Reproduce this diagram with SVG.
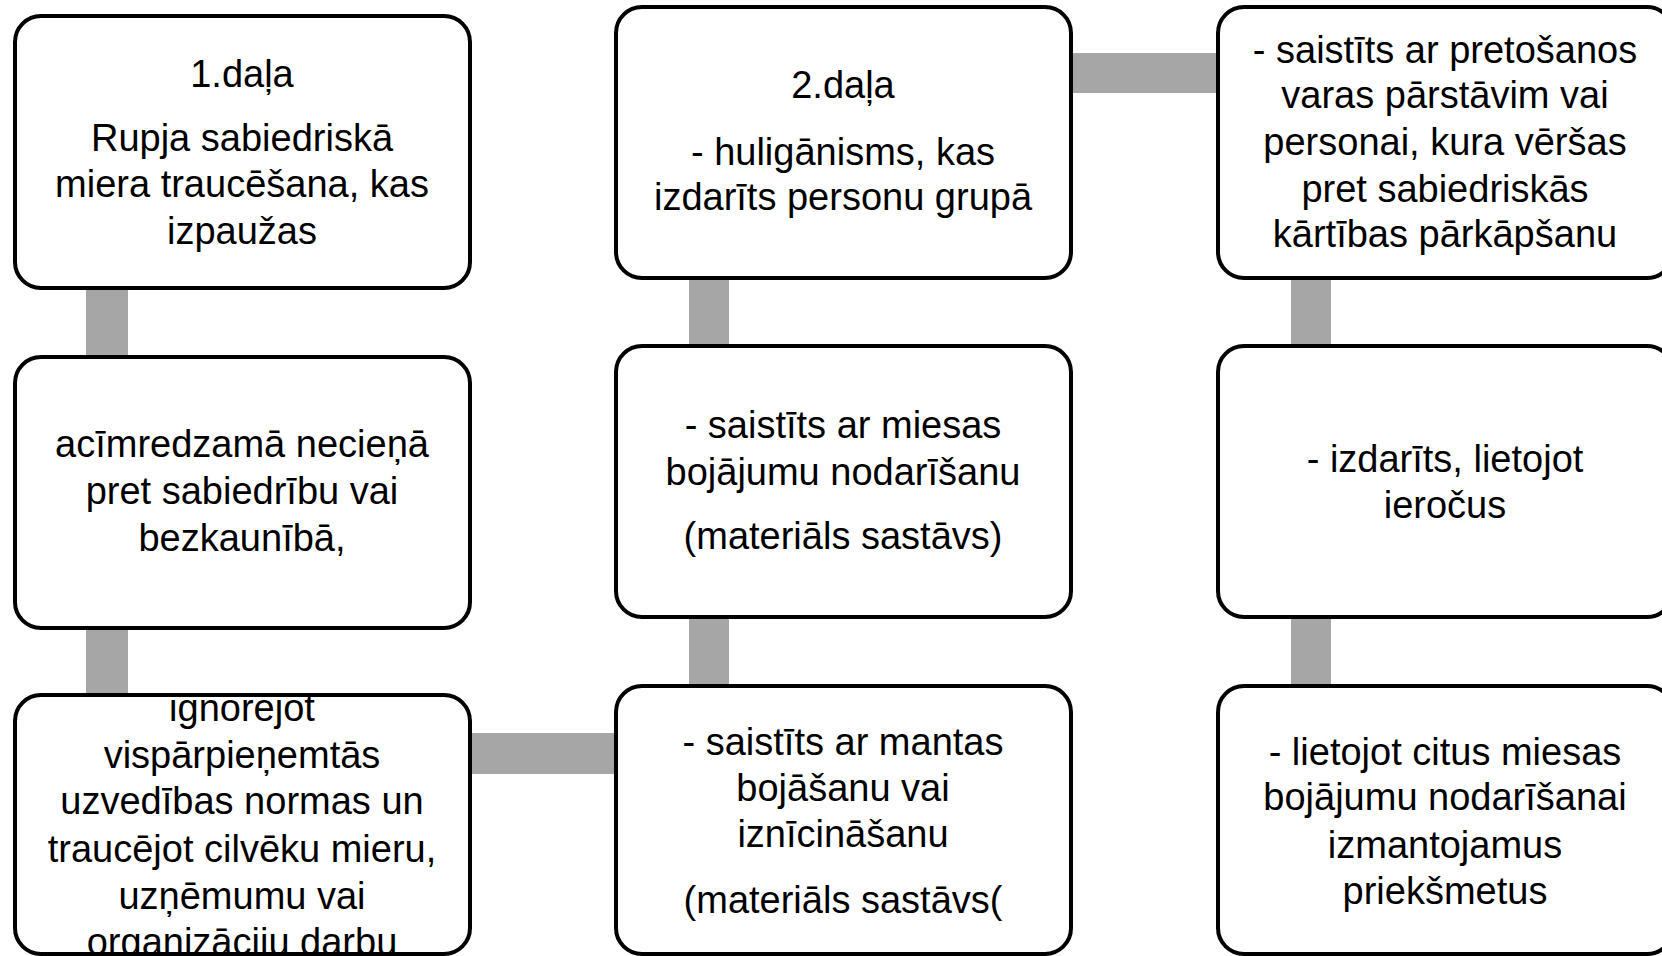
<svg xmlns="http://www.w3.org/2000/svg" width="1662" height="956" viewBox="0 0 1662 956">
<style>
.box{fill:#fff;stroke:#000;stroke-width:4}
.con{fill:#a6a6a6}
text{font-family:"Liberation Sans",Arial,sans-serif;font-size:38px;fill:#000;text-anchor:middle}
</style>
<defs>
<clipPath id="c13"><rect x="15" y="697" width="455" height="259"/></clipPath>
</defs>
<rect width="1662" height="956" fill="#fff"/>
<g id="connectors">
<rect class="con" x="86" y="286" width="42" height="73"/>
<rect class="con" x="86" y="626" width="42" height="71"/>
<rect class="con" x="689" y="276" width="40" height="72"/>
<rect class="con" x="689" y="615" width="40" height="73"/>
<rect class="con" x="1291" y="276" width="40" height="72"/>
<rect class="con" x="1291" y="615" width="40" height="73"/>
<rect class="con" x="1069" y="53" width="151" height="40"/>
<rect class="con" x="468" y="733" width="150" height="41"/>
</g>
<g id="n11">
<rect class="box" x="15" y="16" width="455" height="272" rx="26"/>
<text x="242" y="87">1.daļa</text>
<text x="242" y="151">Rupja sabiedriskā</text>
<text x="242" y="197">miera traucēšana, kas</text>
<text x="242" y="244">izpaužas</text>
</g>
<g id="n12">
<rect class="box" x="15" y="357" width="455" height="271" rx="26"/>
<text x="242" y="457">acīmredzamā necieņā</text>
<text x="242" y="504">pret sabiedrību vai</text>
<text x="242" y="551">bezkaunībā,</text>
</g>
<g id="n13">
<rect class="box" x="15" y="695" width="455" height="259" rx="26"/>
<g clip-path="url(#c13)">
<text x="242" y="721">ignorējot</text>
<text x="242" y="768">vispārpieņemtās</text>
<text x="242" y="814">uzvedības normas un</text>
<text x="242" y="862">traucējot cilvēku mieru,</text>
<text x="242" y="909">uzņēmumu vai</text>
<text x="242" y="955">organizāciju darbu</text>
</g>
</g>
<g id="n21">
<rect class="box" x="616" y="7" width="455" height="271" rx="26"/>
<text x="843" y="98">2.daļa</text>
<text x="843" y="165">- huligānisms, kas</text>
<text x="843" y="210">izdarīts personu grupā</text>
</g>
<g id="n22">
<rect class="box" x="616" y="346" width="455" height="271" rx="26"/>
<text x="843" y="438">- saistīts ar miesas</text>
<text x="843" y="485">bojājumu nodarīšanu</text>
<text x="843" y="549">(materiāls sastāvs)</text>
</g>
<g id="n23">
<rect class="box" x="616" y="686" width="455" height="268" rx="26"/>
<text x="843" y="755">- saistīts ar mantas</text>
<text x="843" y="801">bojāšanu vai</text>
<text x="843" y="847">iznīcināšanu</text>
<text x="843" y="913">(materiāls sastāvs(</text>
</g>
<g id="n31">
<rect class="box" x="1218" y="7" width="455" height="271" rx="26"/>
<text x="1445" y="63">- saistīts ar pretošanos</text>
<text x="1445" y="108">varas pārstāvim vai</text>
<text x="1445" y="155">personai, kura vēršas</text>
<text x="1445" y="202">pret sabiedriskās</text>
<text x="1445" y="247">kārtības pārkāpšanu</text>
</g>
<g id="n32">
<rect class="box" x="1218" y="346" width="455" height="271" rx="26"/>
<text x="1445" y="472">- izdarīts, lietojot</text>
<text x="1445" y="518">ieročus</text>
</g>
<g id="n33">
<rect class="box" x="1218" y="686" width="455" height="268" rx="26"/>
<text x="1445" y="765">- lietojot citus miesas</text>
<text x="1445" y="810">bojājumu nodarīšanai</text>
<text x="1445" y="858">izmantojamus</text>
<text x="1445" y="904">priekšmetus</text>
</g>
</svg>
